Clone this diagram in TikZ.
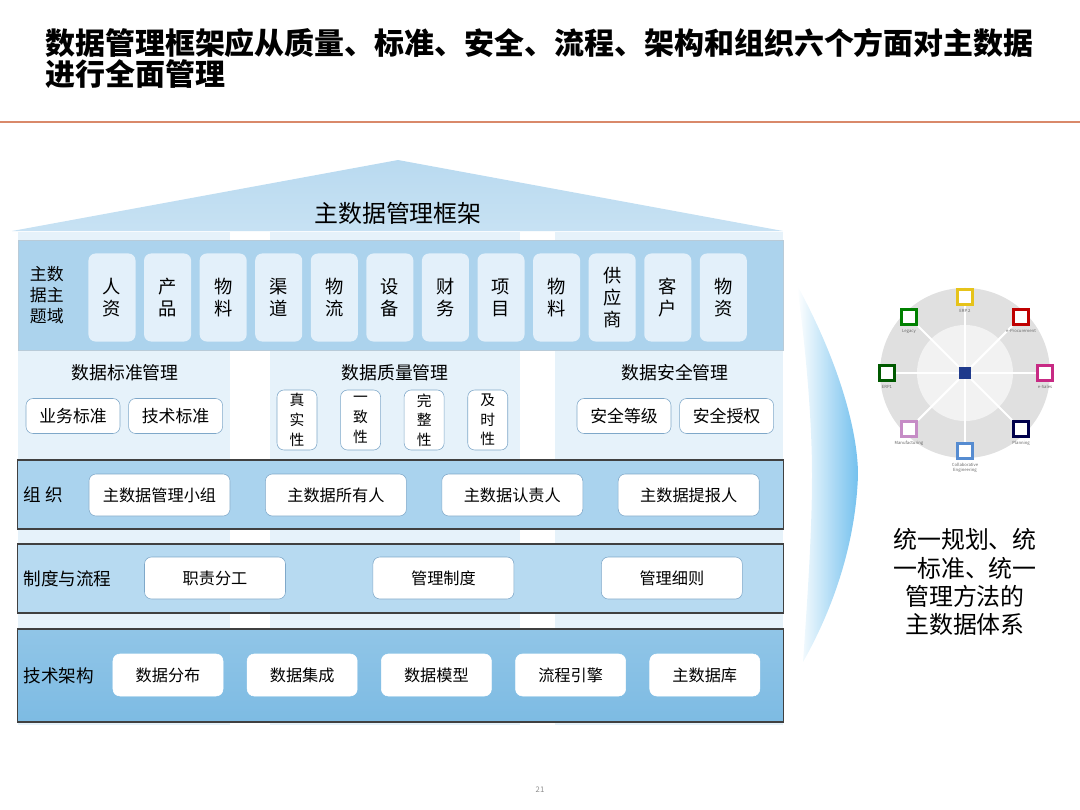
\documentclass[tikz,border=0pt]{standalone}
\usepackage{fontspec}
\setmainfont{Noto Sans CJK SC}
\usetikzlibrary{positioning}

\definecolor{roofblue}{HTML}{B9DAF0}
\definecolor{rowblue}{HTML}{ACD3ED}
\definecolor{cellblue}{HTML}{E3F0FA}
\definecolor{pillarblue}{HTML}{E6F2FA}
\definecolor{bandblue}{HTML}{AAD3EE}
\definecolor{techblue}{HTML}{7DBBE3}
\definecolor{boxline}{HTML}{7FA8C9}
\definecolor{ruleorange}{HTML}{D9896A}
\definecolor{arrowblue}{HTML}{74C1EE}
\definecolor{hubblue}{HTML}{1F3A8C}

\tikzstyle{cell}=[fill=cellblue, rounded corners=5pt, minimum width=1.175cm, minimum height=2.2cm, align=center, inner sep=0pt, font=\fontsize{13}{15.5}\selectfont]
\tikzstyle{tag}=[draw=boxline, fill=white, rounded corners=5pt, align=center, inner sep=0pt]
\tikzstyle{stdbox}=[tag, minimum width=2.35cm, minimum height=0.875cm, font=\fontsize{12}{14}\selectfont]
\tikzstyle{qbox}=[tag, minimum width=1cm, minimum height=1.5cm, font=\fontsize{10.5}{14}\selectfont]
\tikzstyle{orgbox}=[tag, minimum width=3.525cm, minimum height=1.05cm, font=\fontsize{11.5}{14}\selectfont]
\tikzstyle{techbox}=[tag, draw=white, minimum width=2.75cm, minimum height=1.05cm, font=\fontsize{11.5}{14}\selectfont]
\tikzstyle{band}=[draw=black!75, line width=0.8pt, fill=bandblue, minimum width=19.125cm, inner sep=0pt]
\tikzstyle{bandlabel}=[anchor=west, inner sep=0pt, font=\fontsize{12.5}{14}\selectfont]
\tikzstyle{header}=[inner sep=0pt, font=\fontsize{12.7}{14}\selectfont]
\tikzstyle{wheelbox}=[draw, fill=white, line width=2pt, minimum size=0.38cm, inner sep=0pt]
\tikzstyle{wheeltext}=[inner sep=0pt, text=black!60, font=\fontsize{3}{3.5}\selectfont, align=center]

\begin{document}
\begin{tikzpicture}[x=0.025cm, y=-0.025cm]
  \useasboundingbox (0,0) rectangle (1080,810);

  % title and rule
  \node[anchor=base west, inner sep=0pt, font=\fontsize{21.3}{22}\selectfont\bfseries] (title1) at (45,54) {数据管理框架应从质量、标准、安全、流程、架构和组织六个方面对主数据};
  \node[anchor=base west, inner sep=0pt, font=\fontsize{21.3}{22}\selectfont\bfseries] (title2) at (45,85) {进行全面管理};
  \draw[ruleorange, line width=1.6pt] (0,122) -- (1080,122);

  % roof and pillars
  \shade[top color=roofblue, bottom color=roofblue!80!white] (12,231) -- (398,160) -- (783,231) -- cycle;
  \node[inner sep=0pt, font=\fontsize{17}{18}\selectfont] (rooftitle) at (398,213) {主数据管理框架};
  \fill[pillarblue] (18,232) rectangle (230,725);
  \fill[pillarblue] (270,232) rectangle (520,725);
  \fill[pillarblue] (555,232) rectangle (783,725);

  % subject domains
  \node[draw=rowblue!80!black!60, fill=rowblue, minimum width=19.125cm, minimum height=2.75cm, inner sep=0pt] (subj) at (400.5,295) {};
  \node[anchor=west, inner sep=0pt, align=center, font=\fontsize{12}{15}\selectfont] (subjlabel) at ([xshift=0.3cm]subj.west) {主数\\据主\\题域};
  \node[cell] (s1) at (112,297.5) {人\\资};
  \node[cell] (s2) [right=0.2cm of s1] {产\\品};
  \node[cell] (s3) [right=0.2cm of s2] {物\\料};
  \node[cell] (s4) [right=0.2cm of s3] {渠\\道};
  \node[cell] (s5) [right=0.2cm of s4] {物\\流};
  \node[cell] (s6) [right=0.2cm of s5] {设\\备};
  \node[cell] (s7) [right=0.2cm of s6] {财\\务};
  \node[cell] (s8) [right=0.2cm of s7] {项\\目};
  \node[cell] (s9) [right=0.2cm of s8] {物\\料};
  \node[cell] (s10) [right=0.2cm of s9] {供\\应\\商};
  \node[cell] (s11) [right=0.2cm of s10] {客\\户};
  \node[cell] (s12) [right=0.2cm of s11] {物\\资};

  % standards, quality, security
  \node[header] (hstd) at (125,373) {数据标准管理};
  \node[header] (hqual) at (395,373) {数据质量管理};
  \node[header] (hsec) at (675,373) {数据安全管理};
  \node[stdbox] (std1) at (73,416) {业务标准};
  \node[stdbox] (std2) [right=0.2cm of std1] {技术标准};
  \node[qbox] (q1) at (297,420) {真\\实\\性};
  \node[qbox] (q2) [right=0.575cm of q1] {一\\致\\性};
  \node[qbox] (q3) [right=0.575cm of q2] {完\\整\\性};
  \node[qbox] (q4) [right=0.575cm of q3] {及\\时\\性};
  \node[stdbox] (sec1) at (624,416) {安全等级};
  \node[stdbox] (sec2) [right=0.2cm of sec1] {安全授权};

  % organisation
  \node[band, minimum height=1.725cm] (org) at (400.5,494.5) {};
  \node[bandlabel] (orglabel) at ([xshift=0.15cm]org.west) {组 织};
  \node[orgbox] (o1) at (159.5,495) {主数据管理小组};
  \node[orgbox] (o2) [right=0.87cm of o1] {主数据所有人};
  \node[orgbox] (o3) [right=0.87cm of o2] {主数据认责人};
  \node[orgbox] (o4) [right=0.87cm of o3] {主数据提报人};

  % rules and process
  \node[band, fill=bandblue!85!white, minimum height=1.725cm] (rules) at (400.5,578.5) {};
  \node[bandlabel] (ruleslabel) at ([xshift=0.15cm]rules.west) {制度与流程};
  \node[orgbox] (r1) at (215,578) {职责分工};
  \node[orgbox] (r2) [right=2.17cm of r1] {管理制度};
  \node[orgbox] (r3) [right=2.17cm of r2] {管理细则};

  % technical architecture
  \node[band, top color=techblue!85!white, bottom color=techblue, minimum height=2.325cm] (tech) at (400.5,675.5) {};
  \node[bandlabel] (techlabel) at ([xshift=0.15cm]tech.west) {技术架构};
  \node[techbox] (t1) at (168,675) {数据分布};
  \node[techbox] (t2) [right=0.59cm of t1] {数据集成};
  \node[techbox] (t3) [right=0.59cm of t2] {数据模型};
  \node[techbox] (t4) [right=0.59cm of t3] {流程引擎};
  \node[techbox] (t5) [right=0.59cm of t4] {主数据库};

  % arrow
  \shade[left color=white, right color=arrowblue] (797,285) .. controls (838,360) and (858,430) .. (858,475)
    .. controls (856,535) and (838,600) .. (803,662) .. controls (808,590) and (812,530) .. (812,475)
    .. controls (812,420) and (806,350) .. (797,285) -- cycle;

  % wheel
  \fill[black!12] (965,373) circle (2.125cm);
  \fill[black!5] (965,373) circle (1.2cm);
  \node[fill=hubblue, minimum size=0.3cm, inner sep=0pt] (hub) at (965,373) {};
  \node[wheelbox, draw=yellow!70!orange!90!black] (w1) at ([shift={(90:1.9cm)}]hub) {};
  \node[wheelbox, draw=red!75!black] (w2) at ([shift={(45:1.98cm)}]hub) {};
  \node[wheelbox, draw=magenta!60!violet] (w3) at ([shift={(0:2cm)}]hub) {};
  \node[wheelbox, draw=blue!30!black] (w4) at ([shift={(-45:1.98cm)}]hub) {};
  \node[wheelbox, draw=cyan!50!blue!70] (w5) at ([shift={(-90:1.95cm)}]hub) {};
  \node[wheelbox, draw=violet!45] (w6) at ([shift={(-135:1.98cm)}]hub) {};
  \node[wheelbox, draw=green!35!black] (w7) at ([shift={(180:1.95cm)}]hub) {};
  \node[wheelbox, draw=green!50!black] (w8) at ([shift={(135:1.98cm)}]hub) {};
  \draw[white, line width=1.5pt] (hub) -- (w1);
  \draw[white, line width=1.5pt] (hub) -- (w2);
  \draw[white, line width=1.5pt] (hub) -- (w3);
  \draw[white, line width=1.5pt] (hub) -- (w4);
  \draw[white, line width=1.5pt] (hub) -- (w5);
  \draw[white, line width=1.5pt] (hub) -- (w6);
  \draw[white, line width=1.5pt] (hub) -- (w7);
  \draw[white, line width=1.5pt] (hub) -- (w8);
  \node[wheeltext, below=2pt of w1] (w1text) {ERP 2};
  \node[wheeltext, below=2pt of w2] (w2text) {e-Procurement};
  \node[wheeltext, below=2pt of w3] (w3text) {e-Sales};
  \node[wheeltext, below=2pt of w4] (w4text) {Planning};
  \node[wheeltext, below=2pt of w5] (w5text) {Collaborative\\Engineering};
  \node[wheeltext, below=2pt of w6] (w6text) {Manufacturing};
  \node[wheeltext, below=2pt of w7] (w7text) {ERP1};
  \node[wheeltext, below=2pt of w8] (w8text) {Legacy};

  % summary
  \node[align=center, inner sep=0pt, font=\fontsize{17}{20}\selectfont] (summary) at (965,582) {统一规划、统\\一标准、统一\\管理方法的\\主数据体系};
  \node[text=black!45, inner sep=0pt, font=\fontsize{5.5}{6}\selectfont] (pagenum) at (540,790) {21};
\end{tikzpicture}
\end{document}
